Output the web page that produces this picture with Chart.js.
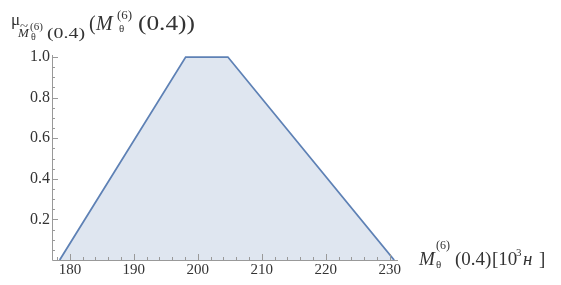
<!DOCTYPE html>
<html>
<head>
<meta charset="utf-8">
<script src="https://cdn.jsdelivr.net/npm/chart.js@4.4.1/dist/chart.umd.min.js"></script>
<style>
  html, body { margin: 0; padding: 0; background: #fff; }
  #wrap { width: 561px; height: 285px; position: relative; }
</style>
</head>
<body>
<div id="wrap"><canvas id="chart"></canvas></div>
<script>
// membership function points (trapezoid)
const xValues = [178.4, 198.1, 204.7, 230.7];
const muValues = [0, 1, 1, 0];

// tick labels
const xTickLabels = [180, 190, 200, 210, 220, 230];
const yTickLabels = [0.2, 0.4, 0.6, 0.8, 1.0];

const serif = '"Liberation Serif", "DejaVu Serif", serif';
const lineColor = "#5e81b5";

// draw text pieces: [text, x, baseline, size, italic, width]
// width (optional) stretches the piece horizontally to match the original
function drawPieces(ctx, pieces) {
  pieces.forEach(([text, x, y, size, italic, w]) => {
    ctx.font = (italic ? "italic " : "") + size + "px " + serif;
    const natural = ctx.measureText(text).width;
    const sx = w ? w / natural : 1;
    ctx.save();
    ctx.translate(x, y);
    ctx.scale(sx, 1);
    ctx.fillText(text, 0, 0);
    ctx.restore();
  });
}

// Mathematica-style axes: inward ticks, labels, axis titles
const axesPlugin = {
  id: "mmaAxes",
  afterDatasetsDraw(chart) {
    const { ctx, chartArea, scales } = chart;
    const xs = scales.x, ys = scales.y;
    const x0 = chartArea.left, y0 = chartArea.bottom;
    ctx.save();
    ctx.strokeStyle = "#999";
    ctx.lineWidth = 1;
    ctx.beginPath();
    ctx.moveTo(x0 + 0.5, chartArea.top);
    ctx.lineTo(x0 + 0.5, y0 + 0.5);
    ctx.lineTo(chartArea.right, y0 + 0.5);
    ctx.stroke();

    // x ticks
    ctx.beginPath();
    for (let v = 178; v <= 230; v += 2) {
      const px = Math.round(xs.getPixelForValue(v)) + 0.5;
      const len = v % 10 === 0 ? 6 : 3;
      ctx.moveTo(px, y0);
      ctx.lineTo(px, y0 - len);
    }
    // y ticks
    for (let i = 1; i <= 20; i++) {
      const v = i * 0.05;
      const py = Math.round(ys.getPixelForValue(v)) + 0.5;
      const len = i % 4 === 0 ? 6 : 3;
      ctx.moveTo(x0, py);
      ctx.lineTo(x0 + len, py);
    }
    ctx.stroke();

    ctx.fillStyle = "#333";
    ctx.font = "15px " + serif;
    ctx.textAlign = "center";
    ctx.textBaseline = "top";
    xTickLabels.forEach((v) => {
      ctx.fillText(String(v), xs.getPixelForValue(v), y0 + 3);
    });
    ctx.font = "16px " + serif;
    ctx.textAlign = "right";
    ctx.textBaseline = "middle";
    yTickLabels.forEach((v) => {
      ctx.fillText(v.toFixed(1), x0 - 2, ys.getPixelForValue(v));
    });

    // y axis title
    ctx.textAlign = "left";
    ctx.textBaseline = "alphabetic";
    drawPieces(ctx, [
      ["\u03bc", 11, 25, 17, false],
      ["~", 20, 30, 12, false, 8],
      ["M", 18, 37, 13, true],
      ["(6)", 30, 30, 11, false],
      ["\u03b8", 31, 40, 10, false],
      ["(0.4)", 47, 38, 15, false, 38],
      ["(", 89, 30, 20, false],
      ["M", 96, 30, 20, true],
      ["(6)", 117, 19, 13, false],
      ["\u03b8", 119, 32, 11, false],
      ["(0.4))", 138, 30, 20, false, 57],
    ]);

    // x axis title
    drawPieces(ctx, [
      ["M", 419, 265, 19, true],
      ["(6)", 436, 249, 12, false],
      ["\u03b8", 436, 268, 11, false],
      ["(0.4)", 455, 265, 19, false],
      ["[10", 492, 265, 19, false],
      ["3", 516, 256, 11, false],
      ["\u043d", 523, 265, 19, true],
      ["]", 539, 265, 19, false],
    ]);
    ctx.restore();
  },
};

new Chart(document.getElementById("chart"), {
  type: "line",
  data: {
    datasets: [
      {
        data: xValues.map((x, i) => ({ x: x, y: muValues[i] })),
        borderColor: lineColor,
        borderWidth: 1.8,
        backgroundColor: "rgba(94, 129, 181, 0.2)",
        fill: "origin",
        pointRadius: 0,
        tension: 0,
      },
    ],
  },
  options: {
    responsive: true,
    maintainAspectRatio: false,
    animation: false,
    layout: { padding: { left: 52, right: 163, top: 55, bottom: 25 } },
    plugins: { legend: { display: false }, tooltip: { enabled: false } },
    scales: {
      x: { type: "linear", min: 177.2, max: 231.3, display: false },
      y: { min: 0, max: 1.01, display: false },
    },
  },
  plugins: [axesPlugin],
});
</script>
</body>
</html>
